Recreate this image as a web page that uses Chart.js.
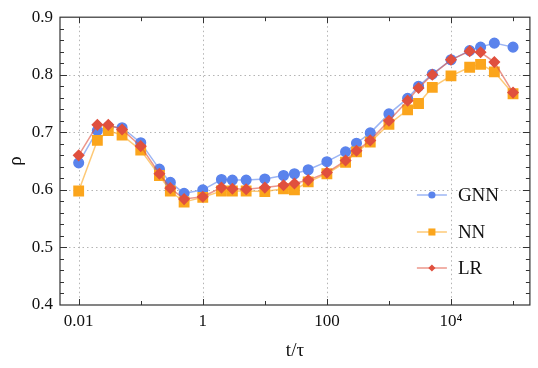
<!DOCTYPE html>
<html>
<head>
<meta charset="utf-8">
<script src="https://cdn.jsdelivr.net/npm/chart.js@4.4.0/dist/chart.umd.min.js"></script>
<style>
  body { margin: 0; background: #fff; }
  canvas { display: block; }
</style>
</head>
<body>
<canvas id="myChart" width="538" height="368"></canvas>
<script>
// t/tau sample points
var times = [0.01, 0.02, 0.03, 0.05, 0.1, 0.2, 0.3, 0.5, 1, 2, 3, 5, 10, 20, 30, 50,
             100, 200, 300, 500, 1000, 2000, 3000, 5000, 1e4, 2e4, 3e4, 5e4, 1e5];

var gnn = [0.647, 0.703, 0.710, 0.708, 0.682, 0.636, 0.613, 0.594, 0.600, 0.618, 0.617, 0.617,
           0.619, 0.625, 0.628, 0.635, 0.649, 0.666, 0.681, 0.699, 0.732, 0.759, 0.780, 0.801,
           0.826, 0.842, 0.848, 0.855, 0.848];
var nn  = [0.598, 0.686, 0.703, 0.695, 0.669, 0.625, 0.598, 0.579, 0.587, 0.598, 0.598, 0.598,
           0.597, 0.602, 0.600, 0.614, 0.628, 0.648, 0.666, 0.683, 0.714, 0.739, 0.750, 0.778,
           0.798, 0.813, 0.818, 0.805, 0.767];
var lr  = [0.660, 0.713, 0.713, 0.705, 0.676, 0.628, 0.603, 0.584, 0.588, 0.604, 0.602, 0.601,
           0.604, 0.608, 0.611, 0.617, 0.630, 0.651, 0.668, 0.686, 0.720, 0.755, 0.777, 0.800,
           0.826, 0.841, 0.839, 0.822, 0.769];

var seriesNames = ['GNN', 'NN', 'LR'];

var xTicks = [0.01, 0.1, 1, 10, 100, 1000, 1e4, 1e5];
var xTickLabels = ['0.01', '', '1', '', '100', '', '10\u2074', ''];
var yTicks = [0.4, 0.5, 0.6, 0.7, 0.8, 0.9];
var yTickLabels = ['0.4', '0.5', '0.6', '0.7', '0.8', '0.9'];

var serif = "'Liberation Serif', 'DejaVu Serif', serif";

function pts(ys) {
    return ys.map(function(v, i) { return {x: times[i], y: v}; });
}

// dotted grid only at the labelled ticks
var dottedGrid = {
    id: 'dottedGrid',
    beforeDatasetsDraw: function(chart) {
        var ctx = chart.ctx, a = chart.chartArea;
        var xs = chart.scales.x, ys = chart.scales.y;
        ctx.save();
        ctx.strokeStyle = '#b4b4b4';
        ctx.lineWidth = 1;
        ctx.setLineDash([1.5, 3]);
        ctx.beginPath();
        xTicks.forEach(function(v, i) {
            if (!xTickLabels[i]) return;
            var px = Math.round(xs.getPixelForValue(v)) + 0.5;
            ctx.moveTo(px, a.top); ctx.lineTo(px, a.bottom);
        });
        yTicks.forEach(function(v, i) {
            if (i === 0 || i === yTicks.length - 1) return;
            var py = Math.round(ys.getPixelForValue(v)) + 0.5;
            ctx.moveTo(a.left, py); ctx.lineTo(a.right, py);
        });
        ctx.stroke();
        ctx.restore();
    }
};

// frame with inward ticks, like the original
var frameTicks = {
    id: 'frameTicks',
    afterDatasetsDraw: function(chart) {
        var ctx = chart.ctx, a = chart.chartArea;
        var xs = chart.scales.x, ys = chart.scales.y;
        ctx.save();
        ctx.strokeStyle = '#333';
        ctx.lineWidth = 1.2;
        ctx.strokeRect(a.left, a.top, a.right - a.left, a.bottom - a.top);
        ctx.lineWidth = 1;
        ctx.beginPath();
        xTicks.forEach(function(v, i) {
            var px = Math.round(xs.getPixelForValue(v)) + 0.5;
            var len = xTickLabels[i] ? 6 : 4;
            ctx.moveTo(px, a.bottom); ctx.lineTo(px, a.bottom - len);
            ctx.moveTo(px, a.top); ctx.lineTo(px, a.top + len);
        });
        for (var k = 1; k < 25; k++) {
            var v = 0.4 + k * 0.02;
            var py = Math.round(ys.getPixelForValue(v)) + 0.5;
            var len = (k % 5 === 0) ? 7 : 4;
            ctx.moveTo(a.left, py); ctx.lineTo(a.left + len, py);
            ctx.moveTo(a.right, py); ctx.lineTo(a.right - len, py);
        }
        ctx.stroke();
        ctx.restore();
    }
};

function marker(ctx, style, x, y, r) {
    ctx.beginPath();
    if (style === 'circle') {
        ctx.arc(x, y, r, 0, Math.PI * 2);
    } else if (style === 'rect') {
        ctx.rect(x - r * 0.707, y - r * 0.707, r * 1.414, r * 1.414);
    } else {
        ctx.moveTo(x - r, y); ctx.lineTo(x, y - r); ctx.lineTo(x + r, y); ctx.lineTo(x, y + r);
        ctx.closePath();
    }
    ctx.fill();
}

var insideLegend = {
    id: 'insideLegend',
    afterDraw: function(chart) {
        var ctx = chart.ctx, a = chart.chartArea;
        var rows = [195, 232, 268];
        ctx.save();
        ctx.font = '19px ' + serif;
        ctx.textBaseline = 'middle';
        chart.data.datasets.forEach(function(ds, i) {
            var y = rows[i];
            var x0 = a.right - 113;
            ctx.strokeStyle = ds.borderColor;
            ctx.lineWidth = 1.5;
            ctx.beginPath();
            ctx.moveTo(x0, y); ctx.lineTo(x0 + 30, y);
            ctx.stroke();
            ctx.fillStyle = ds.pointBackgroundColor;
            marker(ctx, ds.pointStyle, x0 + 15, y, ds.pointStyle === 'rect' ? 5 : 3.6);
            ctx.fillStyle = '#111';
            ctx.fillText(ds.label, x0 + 41, y + 1);
        });
        ctx.restore();
    }
};

var ctx = document.getElementById('myChart').getContext('2d');
var chart = new Chart(ctx, {
    type: 'line',
    data: {
        datasets: [{
            label: seriesNames[0],
            data: pts(gnn),
            borderColor: 'rgba(90,131,236,0.6)',
            pointBackgroundColor: '#5a83ec',
            pointBorderColor: '#5a83ec',
            pointStyle: 'circle',
            pointRadius: 4.8,
            borderWidth: 1.5,
            order: 2
        }, {
            label: seriesNames[1],
            data: pts(nn),
            borderColor: 'rgba(251,165,28,0.6)',
            pointBackgroundColor: '#fba51c',
            pointBorderColor: '#fba51c',
            pointStyle: 'rect',
            pointRadius: 6.6,
            borderWidth: 1.5,
            order: 1
        }, {
            label: seriesNames[2],
            data: pts(lr),
            borderColor: 'rgba(224,80,62,0.6)',
            pointBackgroundColor: '#e0503e',
            pointBorderColor: '#e0503e',
            pointStyle: 'rectRot',
            pointRadius: 5,
            borderWidth: 1.5,
            order: 0
        }]
    },
    options: {
        responsive: false,
        animation: false,
        layout: { padding: { top: 11, right: 3, left: 0, bottom: 0 } },
        plugins: {
            legend: { display: false },
            tooltip: { enabled: false }
        },
        scales: {
            x: {
                type: 'logarithmic',
                min: 0.005,
                max: 1.87e5,
                afterBuildTicks: function(scale) {
                    scale.ticks = xTicks.map(function(v) { return {value: v}; });
                },
                afterFit: function(scale) { scale.height = 63; },
                ticks: {
                    autoSkip: false,
                    maxRotation: 0,
                    padding: 6,
                    color: '#111',
                    font: { family: serif, size: 17 },
                    callback: function(value) {
                        var i = xTicks.indexOf(value);
                        return i >= 0 ? xTickLabels[i] : '';
                    }
                },
                grid: { display: false, drawTicks: false },
                border: { display: false },
                title: {
                    display: true,
                    text: 't/\u03c4',
                    color: '#111',
                    font: { family: serif, size: 19 },
                    padding: { top: 0, bottom: 6 }
                }
            },
            y: {
                min: 0.4,
                max: 0.9,
                afterBuildTicks: function(scale) {
                    scale.ticks = yTicks.map(function(v) { return {value: v}; });
                },
                afterFit: function(scale) { scale.width = 60; },
                ticks: {
                    padding: 7,
                    color: '#111',
                    font: { family: serif, size: 17 },
                    callback: function(value, index) { return yTickLabels[index]; }
                },
                grid: { display: false, drawTicks: false },
                border: { display: false },
                title: {
                    display: true,
                    text: '\u03c1',
                    color: '#111',
                    font: { family: serif, size: 19 },
                    padding: { top: 5, bottom: 0 }
                }
            }
        }
    },
    plugins: [dottedGrid, frameTicks, insideLegend]
});
</script>
</body>
</html>
